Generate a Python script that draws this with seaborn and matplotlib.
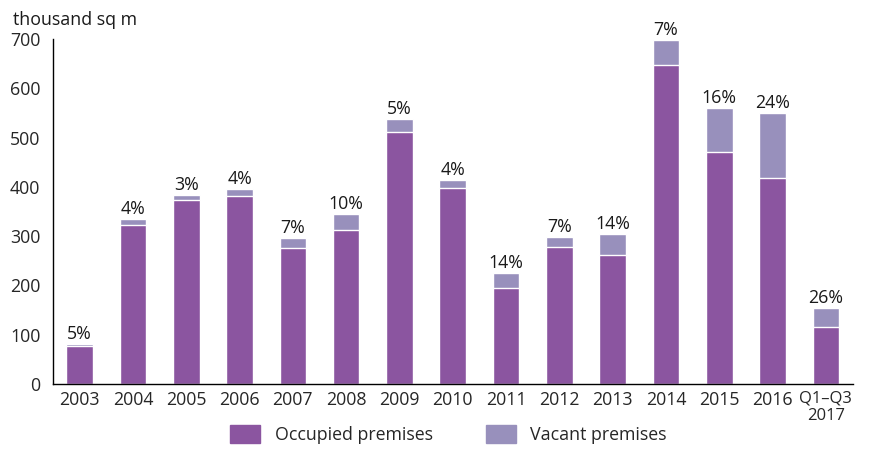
import matplotlib.pyplot as plt
import matplotlib.patches as mpatches
import seaborn as sns
import numpy as np
import pandas as pd

years = ['2003', '2004', '2005', '2006', '2007', '2008', '2009', '2010',
         '2011', '2012', '2013', '2014', '2015', '2016', 'Q1–Q3\n2017']
occupied = [78, 322, 373, 382, 276, 312, 511, 398, 194, 278, 262, 648, 471, 418, 115]
vacant = [4, 12, 11, 14, 20, 33, 26, 17, 31, 21, 42, 50, 90, 132, 40]
shares = ['5%', '4%', '3%', '4%', '7%', '10%', '5%', '4%', '14%', '7%', '14%', '7%', '16%', '24%', '26%']

c_occ = '#8b55a0'
c_vac = '#9890bc'
fs = 12.8

df = pd.DataFrame({'year': years, 'occupied': occupied, 'vacant': vacant})
df['total'] = df['occupied'] + df['vacant']

sns.set_style('white')
plt.rcParams['font.family'] = ['Open Sans', 'DejaVu Sans']

fig = plt.figure(figsize=(8.71, 4.49), dpi=100)
ax = fig.add_axes([0.0608, 0.1448, 0.918, 0.768])

sns.barplot(data=df, x='year', y='total', color=c_vac, width=0.5,
            edgecolor='white', linewidth=1, saturation=1, ax=ax)
sns.barplot(data=df, x='year', y='occupied', color=c_occ, width=0.5,
            edgecolor='white', linewidth=1, saturation=1, ax=ax)

for i, (t, s) in enumerate(zip(df['total'], shares)):
    ax.text(i, t + 2, s, ha='center', va='bottom', fontsize=fs, color='#1a1a1a')

ax.set_xlim(-0.5, 14.5)
ax.set_ylim(0, 700)
ax.set_yticks(range(0, 701, 100))
ax.set_xlabel('')
ax.set_ylabel('')
ax.set_xticks(np.arange(0.5, 14, 1), minor=True)
ax.tick_params(axis='x', which='major', length=0, labelsize=fs, pad=5)
ax.tick_params(axis='x', which='minor', length=6, width=1, color='black')
ax.tick_params(axis='y', length=5, width=1, color='black', labelsize=fs, pad=4)
for lbl in ax.get_xticklabels():
    if 'Q1' in lbl.get_text():
        lbl.set_fontsize(12)
        lbl.set_linespacing(1.1)

sns.despine(ax=ax)
for sp in ['left', 'bottom']:
    ax.spines[sp].set_color('black')
    ax.spines[sp].set_linewidth(1)

fig.text(0.015, 0.975, 'thousand sq m', fontsize=fs, ha='left', va='top', color='#1a1a1a')

handles = [mpatches.Patch(color=c_occ, label='Occupied premises'),
           mpatches.Patch(color=c_vac, label='Vacant premises')]
fig.legend(handles=handles, loc='lower center', bbox_to_anchor=(0.515, -0.025), ncol=2,
           frameon=False, fontsize=fs, handlelength=1.7, handleheight=1.15,
           columnspacing=3.0, handletextpad=0.8)

fig.savefig('out.png', dpi=100)
